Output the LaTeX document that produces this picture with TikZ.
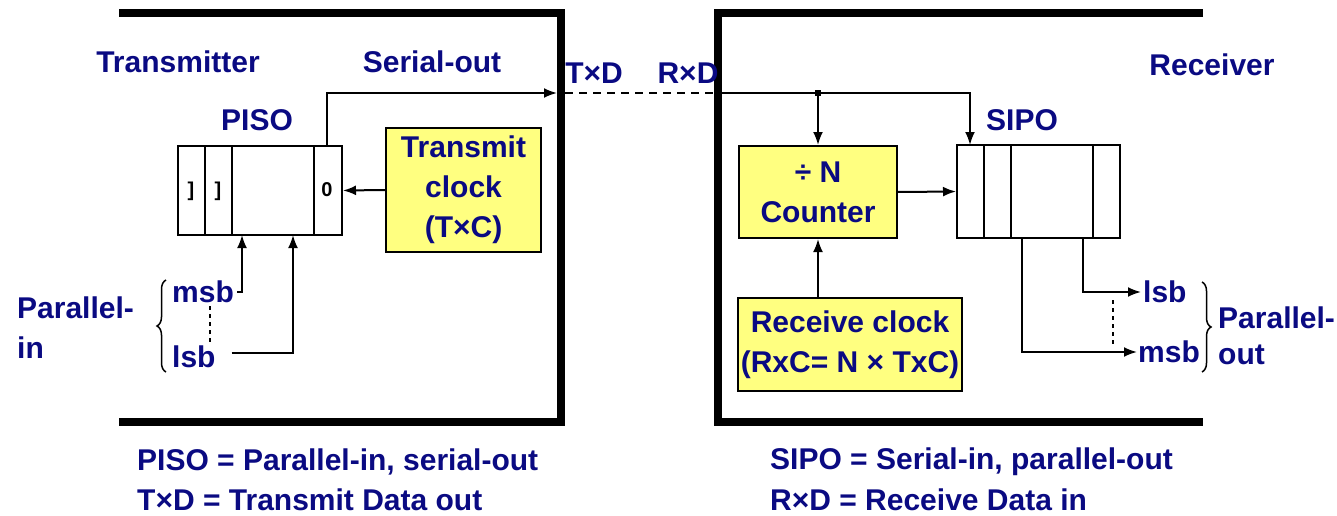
\documentclass[tikz,border=0pt]{standalone}
\usepackage{fontspec}
\setmainfont{Liberation Sans}
\usetikzlibrary{arrows.meta,decorations.pathreplacing}
\definecolor{navy}{RGB}{10,10,130}
\definecolor{yel}{RGB}{255,255,128}
\begin{document}
\begin{tikzpicture}[x=1pt,y=-1pt,
  lbl/.style={text=navy,font=\bfseries\fontsize{30}{36}\selectfont,inner sep=0pt},
  wall/.style={line width=7.5pt,line join=miter},
  wire/.style={line width=2pt},
  arr/.style={wire,-{Latex[length=13pt,width=10pt]}},
  ybox/.style={draw=black,line width=2pt,fill=yel,inner sep=0pt,align=center,lbl},
  reg/.style={draw=black,line width=2pt,fill=white,inner sep=0pt},
  cell/.style={font=\bfseries\fontsize{20}{20}\selectfont,inner sep=0pt},
  brc/.style={line width=1.5pt,decorate,decoration={brace,amplitude=9pt}},
  dots/.style={line width=1.5pt,dash pattern=on 4pt off 4pt}]

\path[use as bounding box] (0,0) rectangle (1337,516);

% enclosures
\draw[wall] (119,13) -- (561,13) -- (561,422) -- (119,422);
\draw[wall] (1203,13) -- (718,13) -- (718,422) -- (1203,422);

% titles
\node[lbl] (ttx) at (178,62) {Transmitter};
\node[lbl] (tso) at (432,62) {Serial-out};
\node[lbl] (ttxd) at (594,73) {T×D};
\node[lbl] (trxd) at (688,73) {R×D};
\node[lbl] (trx) at (1212,65) {Receiver};
\node[lbl] (tpiso) at (257,120) {PISO};
\node[lbl] (tsipo) at (1022,120) {SIPO};

% PISO register
\node[reg,minimum width=164pt,minimum height=89pt] (piso) at (260,190.5) {};
\draw[wire] (205,146) -- (205,235);
\draw[wire] (232,146) -- (232,235);
\draw[wire] (314,146) -- (314,235);
\node[cell] (c1) at (191,191) {]};
\node[cell] (c2) at (218,191) {]};
\node[cell] (c3) at (327,190) {0};

% Transmit clock
\node[ybox,minimum width=155pt,minimum height=124pt] (tclk) at (463.5,190)
  {Transmit\\[4pt]clock\\[4pt](T×C)};
\draw[arr] (tclk.west) -- (piso.east);

% serial link
\coordinate (po) at (327,146);
\coordinate (txd) at (557,93);
\coordinate (txw) at (565,93);
\coordinate (rxw) at (714,93);
\coordinate (rxd) at (722,93);
\coordinate (sipoin) at (970,145);
\draw[arr] (po) |- (txd);
\draw[wire,dash pattern=on 8pt off 6pt] (txw) -- (rxw);
\draw[arr] (rxd) -| (sipoin);

% Counter
\node[ybox,minimum width=158pt,minimum height=92pt] (cnt) at (818,192)
  {÷ N\\[4pt]Counter};
\node[fill=black,minimum size=6pt,inner sep=0pt] (jn) at (818,93) {};
\draw[arr] (jn) -- (cnt.north);

% SIPO register
\node[reg,minimum width=163pt,minimum height=93pt] (sipo) at (1038.5,191.5) {};
\draw[wire] (984,145) -- (984,238);
\draw[wire] (1011,145) -- (1011,238);
\draw[wire] (1093,145) -- (1093,238);
\draw[arr] (cnt.east) -- (sipo.west);

% Receive clock
\node[ybox,minimum width=224pt,minimum height=93pt] (rclk) at (850,344.5)
  {Receive clock\\[4pt](RxC= N × TxC)};
\draw[arr] (rclk.north -| cnt.south) -- (cnt.south);

% Parallel-in
\node[lbl,anchor=west] (pin) at (17,308) {Parallel-};
\node[lbl,anchor=west] (pin2) at (17,348) {in};
\draw[brc] (166,372) -- (166,280);
\node[lbl,anchor=west] (msb) at (172,292) {msb};
\node[lbl,anchor=west] (lsb) at (172,357) {lsb};
\draw[dots] (210,306) -- (210,342);
\coordinate (pi1) at (242,235);
\coordinate (pi2) at (293,235);
\draw[arr] ([xshift=3pt]msb.east) -| (pi1);
\draw[arr] ([xshift=16pt,yshift=4pt]lsb.east) -| (pi2);

% Parallel-out
\coordinate (so1) at (1083,238);
\coordinate (so2) at (1022,238);
\node[lbl,anchor=west] (lsbr) at (1143,292) {lsb};
\node[lbl,anchor=west] (msbr) at (1138,352) {msb};
\draw[arr] (so1) |- ([xshift=-2pt]lsbr.west);
\draw[arr] (so2) |- ([xshift=-1pt]msbr.west);
\draw[dots] (1113,300) -- (1113,345);
\draw[brc] (1202,282) -- (1202,372);
\node[lbl,anchor=west] (pout) at (1218,318) {Parallel-};
\node[lbl,anchor=west] (pout2) at (1218,355) {out};

% legends
\node[lbl,anchor=west] (l1) at (137,462) {PISO = Parallel-in, serial-out};
\node[lbl,anchor=west] (l2) at (137,500) {T×D = Transmit Data out};
\node[lbl,anchor=west] (l3) at (770,462) {SIPO = Serial-in, parallel-out};
\node[lbl,anchor=west] (l4) at (770,500) {R×D = Receive Data in};
\end{tikzpicture}
\end{document}
